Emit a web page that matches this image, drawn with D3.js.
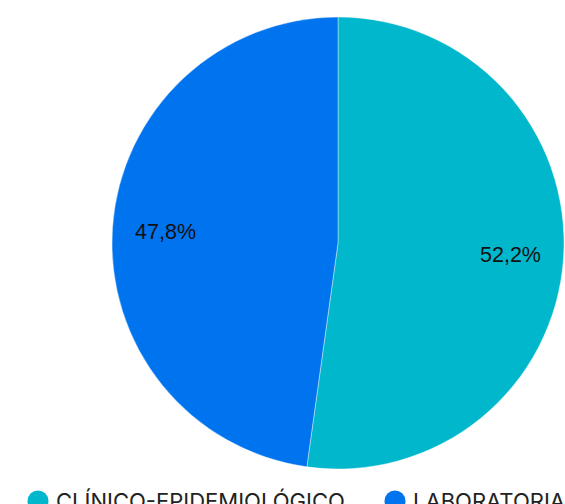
<!DOCTYPE html>
<html><head><meta charset="utf-8">
<script src="https://cdn.jsdelivr.net/npm/d3@7"></script>
<style>html,body{margin:0;padding:0;background:#fff;overflow:hidden}</style>
</head><body>
<svg id="c" width="565" height="504"></svg>
<script>
const categories = ["CLÍNICO-EPIDEMIOLÓGICO", "LABORATORIAL"];
const values = [52.2, 47.8];
const labels = ["52,2%", "47,8%"];
const colors = ["#00b7cc", "#0073ee"];

const svg = d3.select("#c");
const cx = 338, cy = 243, R = 226;
const pie = d3.pie().sort(null).value(d => d)(values);
const arc = d3.arc().innerRadius(0).outerRadius(R);
const labelArc = d3.arc().innerRadius(R * 0.765).outerRadius(R * 0.765);
const g = svg.append("g").attr("transform", `translate(${cx},${cy})`);
g.selectAll("path").data(pie).join("path")
  .attr("d", arc).attr("fill", (d, i) => colors[i])
  .attr("stroke", "#fff").attr("stroke-width", 0.4);
g.selectAll("text").data(pie).join("text")
  .attr("transform", d => `translate(${labelArc.centroid(d)})`)
  .attr("text-anchor", "middle").attr("dy", "0.35em")
  .attr("font-family", "Liberation Sans, Arial, sans-serif").attr("font-size", 21.5)
  .attr("fill", "#111").text((d, i) => labels[i]);

const leg = svg.append("g");
const lx = [38, 395];
categories.forEach((c, i) => {
  leg.append("circle").attr("cx", lx[i]).attr("cy", 501).attr("r", 10.5).attr("fill", colors[i]);
  leg.append("text").attr("class", "lt").attr("x", lx[i] + 18).attr("y", 508.5)
    .attr("font-family", "Inter, sans-serif").attr("font-size", 21).attr("fill", "#222")
    .text(c);
});
// fit legend font so the first entry spans ~289px as in the reference
const first = leg.select("text.lt").node();
const w = first.getComputedTextLength();
const fs = 21 * 289 / w;
leg.selectAll("text.lt").attr("font-size", fs);
</script>
</body></html>
